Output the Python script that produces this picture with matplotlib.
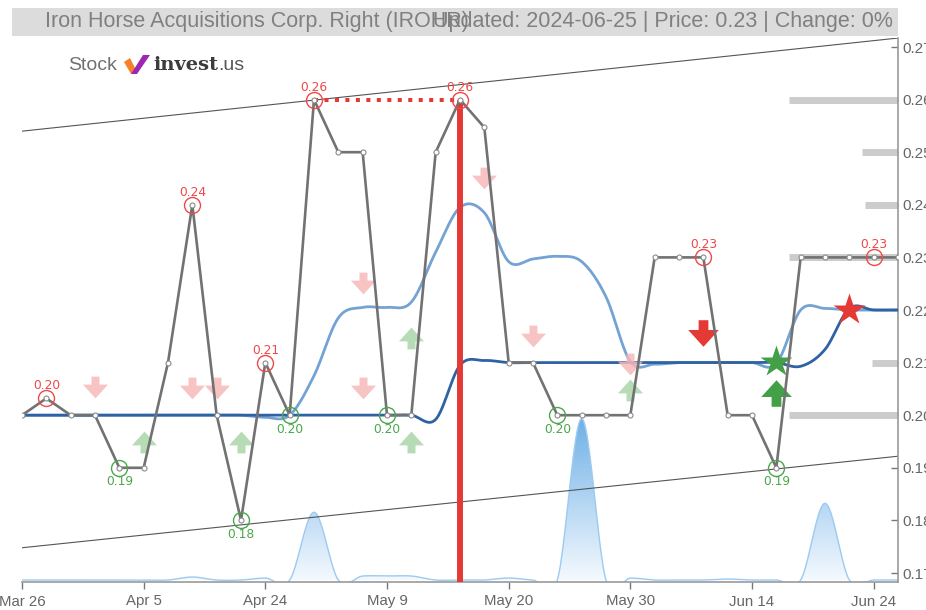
import numpy as np
import matplotlib
matplotlib.use('Agg')
import matplotlib.pyplot as plt
from matplotlib.path import Path
from matplotlib.patches import Rectangle, Polygon
from matplotlib.colors import LinearSegmentedColormap

# ---------------- data ----------------
date_labels = ['Mar 26', 'Apr 5', 'Apr 24', 'May 9', 'May 20', 'May 30', 'Jun 14', 'Jun 24']
date_pos = [0, 5, 10, 15, 20, 25, 30, 35]

price = [0.20, 0.2032, 0.20, 0.20, 0.19, 0.19, 0.21, 0.24, 0.20, 0.18,
         0.21, 0.20, 0.26, 0.25, 0.25, 0.20, 0.20, 0.25, 0.26, 0.2547,
         0.21, 0.21, 0.20, 0.20, 0.20, 0.20, 0.23, 0.23, 0.23, 0.20,
         0.20, 0.19, 0.23, 0.23, 0.23, 0.23, 0.23]

ma_long = [0.20] * 17 + [0.1992, 0.2095, 0.2104] + [0.21] * 12 + [0.2093, 0.2125, 0.2203, 0.22, 0.22]
ma_short = ([0.20] * 10 + [0.1996, 0.20, 0.2075, 0.2185, 0.2205, 0.2205, 0.2215, 0.231, 0.2395, 0.2385,
             0.2292, 0.2297, 0.2302, 0.2292, 0.2225, 0.2102, 0.2097, 0.21, 0.21, 0.21, 0.21,
             0.2098, 0.2200, 0.2203, 0.22, 0.22, 0.22])

volume = [0, 0, 0, 0, 0, 0, 0, 3, 0, 0, 2, 0, 68, 0, 4, 4, 4, 0, 0, 0,
          2, 0, 0, 162, 0, 2, 0, 0, 0, 1, 0, 0, 0, 77, 0, 0, 0]

high_idx = [1, 7, 10, 12, 18, 28, 35]
low_idx = [4, 9, 11, 15, 22, 31]

trend_upper = [0.2540, 0.2717]
trend_lower = [0.1748, 0.1922]

level_prices = [0.26, 0.25, 0.24, 0.23, 0.21, 0.20]
level_strength = [4.48, 1.48, 1.35, 4.48, 1.06, 4.48]

sell_light_idx = [3, 7, 8, 14, 14, 19, 21, 25]
sell_light_val = [0.2054, 0.2052, 0.2052, 0.2052, 0.2251, 0.2451, 0.2151, 0.2097]
buy_light_idx = [5, 9, 16, 16, 25]
buy_light_val = [0.1949, 0.1949, 0.2147, 0.1949, 0.2048]
sell_strong = (28, 0.2156)
buy_strong = (31, 0.2042)
buy_star = (31, 0.2101)
sell_star = (34, 0.2200)

yticks = [0.17, 0.18, 0.19, 0.20, 0.21, 0.22, 0.23, 0.24, 0.25, 0.26, 0.27]

title_left = 'Iron Horse Acquisitions Corp. Right (IROHR)'
title_right = 'Updated: 2024-06-25 | Price: 0.23 | Change: 0%'


def smooth(y, n=24):
    y = np.asarray(y, float)
    x = np.arange(len(y), dtype=float)
    m = np.gradient(y, x)
    xs, ys = [], []
    t = np.linspace(0, 1, n, endpoint=False)
    h00 = 2 * t**3 - 3 * t**2 + 1
    h10 = t**3 - 2 * t**2 + t
    h01 = -2 * t**3 + 3 * t**2
    h11 = t**3 - t**2
    for k in range(len(y) - 1):
        xs.append(x[k] + t)
        ys.append(h00 * y[k] + h10 * m[k] + h01 * y[k + 1] + h11 * m[k + 1])
    xs.append([x[-1]])
    ys.append([y[-1]])
    return np.concatenate(xs), np.concatenate(ys)


W, H = 926, 610
fig = plt.figure(figsize=(W / 100, H / 100), dpi=100)
fig.patch.set_facecolor('white')

L, R, T, B = 22, 898, 38, 582
pos = [L / W, 1 - B / H, (R - L) / W, (B - T) / H]

# ---- volume axes (behind) ----
axv = fig.add_axes(pos)
axv.set_xlim(0, 36)
vtop = max(volume) * (B - T) / 162.0
axv.set_ylim(-vtop * 2 / (B - T), vtop)
axv.axis('off')
vx, vy = smooth(volume)
poly = axv.fill_between(vx, vy, 0, color='none', lw=0)
cmap = LinearSegmentedColormap.from_list('g', ['#f4f9fe', '#6fb0e6'])
grad = np.linspace(0, 1, 256).reshape(-1, 1)
im = axv.imshow(grad, cmap=cmap, origin='lower', aspect='auto',
                extent=[0, 36, 0, max(volume)], zorder=1)
im.set_clip_path(poly.get_paths()[0], transform=axv.transData)
axv.plot(vx, vy, color='#9ccaf0', lw=1.0, zorder=2)
axv.set_xlim(0, 36)
axv.set_ylim(-vtop * 2 / (B - T), vtop)

# ---- main axes ----
ax = fig.add_axes(pos)
ax.patch.set_alpha(0)
ax.set_xlim(0, 36)
ymin = 0.17 - (B - 573) / 5260.0
ymax = 0.27 + (47 - T) / 5260.0
ax.set_ylim(ymin, ymax)

for s in ['top', 'left']:
    ax.spines[s].set_visible(False)
for s in ['bottom', 'right']:
    ax.spines[s].set_color('#999999')
    ax.spines[s].set_linewidth(1.2)

ax.yaxis.tick_right()
ax.set_yticks(yticks)
ax.set_yticklabels([f'{v:.2f}' for v in yticks])
ax.tick_params(axis='y', direction='in', length=5, color='#777777', labelcolor='#666666',
               labelsize=11, pad=3, width=1)
ax.set_xticks(date_pos)
ax.set_xticklabels(date_labels)
ax.tick_params(axis='x', direction='out', length=5, color='#777777', labelcolor='#666666',
               labelsize=10.8, pad=4, width=1)
for lab in ax.get_xticklabels() + ax.get_yticklabels():
    lab.set_fontfamily(['Liberation Sans', 'DejaVu Sans'])

# trend channel
ax.plot([0, 36], trend_upper, color='#555555', lw=0.8, zorder=2)
ax.plot([0, 36], trend_lower, color='#555555', lw=0.8, zorder=2)

# support / resistance bars
for lv, st in zip(level_prices, level_strength):
    ax.plot([36 - st, 36], [lv, lv], color='#cccccc', lw=5, solid_capstyle='butt', zorder=2)

# moving averages
sx, sy = smooth(ma_short)
ax.plot(sx, sy, color='#74a3d3', lw=2.0, zorder=3)
lx, ly = smooth(ma_long)
ax.plot(lx, ly, color='#2e62a3', lw=2.0, zorder=4)

# arrow markers
def arrow_path(up=False):
    v = [(-0.16, 0.435), (0.16, 0.435), (0.16, 0.115), (0.5, 0.115), (0.0, -0.435),
         (-0.5, 0.115), (-0.16, 0.115), (-0.16, 0.435)]
    if up:
        v = [(a, -b) for a, b in v]
    codes = [Path.MOVETO] + [Path.LINETO] * 6 + [Path.CLOSEPOLY]
    return Path(v, codes)

down_m = arrow_path(False)
up_m = arrow_path(True)

ax.plot(sell_light_idx, sell_light_val, ls='none', marker=down_m, ms=18,
        color='#f6b9b9', mec='none', alpha=0.85, zorder=5)
ax.plot(buy_light_idx, buy_light_val, ls='none', marker=up_m, ms=18,
        color='#a9d6a9', mec='none', alpha=0.85, zorder=5)

# red vertical line & dotted
ax.plot([high_idx[4], high_idx[4]], [ymin, price[high_idx[4]]], color='#e53935', lw=4.3,
        solid_capstyle='butt', zorder=6)
ax.plot([high_idx[3], high_idx[4]], [price[high_idx[3]], price[high_idx[4]]], color='#e53935',
        lw=2.9, ls=(0, (1, 1.6)), dash_capstyle='butt', zorder=6)

# price line
xi = np.arange(len(price))
ax.plot(xi, price, color='#727272', lw=1.9, zorder=7, marker='o', ms=3.6,
        mfc='white', mec='#8a8a8a', mew=0.8)

# strong signals
ax.plot([sell_strong[0]], [sell_strong[1]], ls='none', marker=down_m, ms=22, color='#e53935',
        mec='none', zorder=6)
ax.plot([buy_strong[0]], [buy_strong[1]], ls='none', marker=up_m, ms=22, color='#43a047',
        mec='none', zorder=6)
ax.plot([buy_star[0]], [buy_star[1]], ls='none', marker='*', ms=24, color='#43a047',
        mec='none', zorder=6)
ax.plot([sell_star[0]], [sell_star[1]], ls='none', marker='*', ms=24, color='#e53935',
        mec='none', zorder=6)

# highs / lows
for i in high_idx:
    ax.plot([i], [price[i]], ls='none', marker='o', ms=11.5, mfc='none', mec='#f04848',
            mew=1.0, zorder=8)
    ax.annotate(f'{price[i]:.2f}', (i, price[i]), xytext=(0, 9), textcoords='offset points',
                ha='center', va='center', color='#f04848', fontsize=8.8, zorder=9)
for i in low_idx:
    ax.plot([i], [price[i]], ls='none', marker='o', ms=11.5, mfc='none', mec='#4aa84a',
            mew=1.0, zorder=8)
    ax.annotate(f'{price[i]:.2f}', (i, price[i]), xytext=(0, -10), textcoords='offset points',
                ha='center', va='center', color='#4aa84a', fontsize=8.8, zorder=9)

# ---- title bar ----
fig.patches.append(Rectangle((12 / W, 1 - 36 / H), (898 - 12) / W, 28 / H,
                             transform=fig.transFigure, facecolor='#dcdcdc',
                             edgecolor='none', zorder=0))
fig.text(45 / W, 1 - 22 / H, title_left, ha='left', va='center', fontsize=15.5,
         color='#808080', family=['Liberation Sans', 'DejaVu Sans'])
fig.text(893 / W, 1 - 22 / H, title_right, ha='right', va='center', fontsize=15.5,
         color='#808080', family=['Liberation Sans', 'DejaVu Sans'])

# ---- logo ----
ly0 = 1 - 65 / H
fig.text(68 / W, ly0, 'Stock', ha='left', va='center', fontsize=14, color='#707070',
         family=['Liberation Sans', 'DejaVu Sans'])
fig.patches.append(Polygon([(124 / W, 1 - 62 / H), (130 / W, 1 - 58 / H), (136 / W, 1 - 70 / H),
                            (131 / W, 1 - 74 / H)], closed=True, transform=fig.transFigure,
                           facecolor='#f5822a', edgecolor='none'))
fig.patches.append(Polygon([(131 / W, 1 - 74 / H), (143 / W, 1 - 55 / H), (150 / W, 1 - 55 / H),
                            (137 / W, 1 - 74 / H)], closed=True, transform=fig.transFigure,
                           facecolor='#9c27b0', edgecolor='none'))
t_inv = fig.text(153 / W, ly0, 'invest', ha='left', va='center', fontsize=14, color='#3c3c3c',
                 weight='bold', family=['DejaVu Serif'])
fig.canvas.draw()
bb = t_inv.get_window_extent()
fig.text(bb.x1 / W, ly0, '.us', ha='left', va='center', fontsize=14, color='#555555',
         family=['Liberation Sans', 'DejaVu Sans'])

fig.savefig('out.png', dpi=100, facecolor='white')
